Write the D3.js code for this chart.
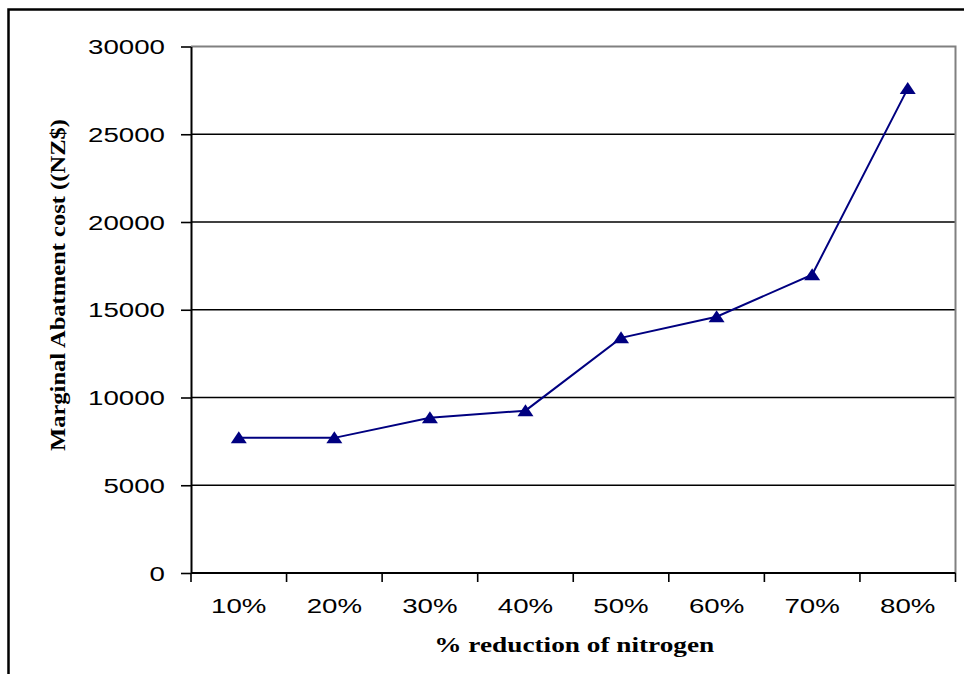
<!DOCTYPE html>
<html>
<head>
<meta charset="utf-8">
<script src="https://cdn.jsdelivr.net/npm/d3@7/dist/d3.min.js"></script>
<style>
  html, body { margin: 0; padding: 0; background: #fff; }
  svg { display: block; }
</style>
</head>
<body>
<svg id="chart" width="964" height="674"></svg>
<script>
// Marginal abatement cost by nitrogen reduction level
const categories = ["10%", "20%", "30%", "40%", "50%", "60%", "70%", "80%"];
const costs = [7700, 7700, 8850, 9250, 13400, 14600, 17000, 27600];
const yTicks = [0, 5000, 10000, 15000, 20000, 25000, 30000];
const yTitle = "Marginal Abatment cost ((NZ$)";
const xTitle = "% reduction of nitrogen";

const W = 964, H = 674;
const plot = { left: 191, top: 46.5, right: 955.5, bottom: 573 };
const stretch = 1.42; // horizontal stretch of the tick label font

const svg = d3.select("#chart");

// outer frame
svg.append("rect")
  .attr("x", 8.5).attr("y", 9.5)
  .attr("width", W + 20).attr("height", H + 20)
  .attr("fill", "#fff").attr("stroke", "#000").attr("stroke-width", 2.5);

const x = d3.scaleBand().domain(categories).range([plot.left, plot.right]).padding(0);
const y = d3.scaleLinear().domain([0, 30000]).range([plot.bottom, plot.top]);

// horizontal gridlines
svg.append("g").selectAll("line")
  .data(yTicks.filter(t => t > 0 && t < 30000))
  .join("line")
  .attr("x1", plot.left).attr("x2", plot.right)
  .attr("y1", d => y(d)).attr("y2", d => y(d))
  .attr("stroke", "#000").attr("stroke-width", 1.7);

// plot area border (top and right)
svg.append("path")
  .attr("d", `M${plot.left},${y(30000)}H${plot.right}V${plot.bottom}`)
  .attr("fill", "none").attr("stroke", "#808080").attr("stroke-width", 2);

// y axis
const yAxis = svg.append("g")
  .attr("transform", `translate(${plot.left},0)`)
  .call(d3.axisLeft(y).tickValues(yTicks).tickSize(10).tickSizeOuter(0).tickFormat(d3.format("d")));
yAxis.select(".domain").attr("stroke", "#000").attr("stroke-width", 2);
yAxis.selectAll(".tick line").attr("stroke", "#000").attr("stroke-width", 1.6);
yAxis.selectAll(".tick text")
  .attr("x", -26 / stretch)
  .attr("dy", "0.36em")
  .attr("transform", `scale(${stretch},1)`)
  .attr("font-family", "'Liberation Sans', Arial, sans-serif")
  .attr("font-size", 19.5)
  .attr("fill", "#000");

// x axis with ticks at category boundaries
const xAxis = svg.append("g")
  .attr("transform", `translate(0,${plot.bottom})`);
xAxis.append("line")
  .attr("x1", plot.left).attr("x2", plot.right)
  .attr("stroke", "#000").attr("stroke-width", 2);
const bounds = categories.map(c => x(c)).concat([x(categories[categories.length - 1]) + x.bandwidth()]);
xAxis.selectAll("line.tk").data(bounds).join("line")
  .attr("class", "tk")
  .attr("x1", d => d).attr("x2", d => d)
  .attr("y1", 0).attr("y2", 9)
  .attr("stroke", "#000").attr("stroke-width", 1.6);
xAxis.selectAll("text").data(categories).join("text")
  .attr("transform", d => `translate(${x(d) + x.bandwidth() / 2},40) scale(${stretch},1)`)
  .attr("text-anchor", "middle")
  .attr("font-family", "'Liberation Sans', Arial, sans-serif")
  .attr("font-size", 19.5)
  .attr("fill", "#000")
  .text(d => d);

// series line
const pts = categories.map((c, i) => ({ c, v: costs[i] }));
svg.append("path")
  .datum(pts)
  .attr("fill", "none")
  .attr("stroke", "#000080")
  .attr("stroke-width", 2)
  .attr("d", d3.line().x(d => x(d.c) + x.bandwidth() / 2).y(d => y(d.v)));

// triangle markers
const tri = "M0,-6.5L8,5.5L-8,5.5Z";
svg.append("g").selectAll("path")
  .data(pts)
  .join("path")
  .attr("d", tri)
  .attr("transform", d => `translate(${x(d.c) + x.bandwidth() / 2},${y(d.v)})`)
  .attr("fill", "#000080");

// axis titles
svg.append("text")
  .attr("transform", "translate(65,285) rotate(-90)")
  .attr("text-anchor", "middle")
  .attr("font-family", "'Liberation Serif', 'Times New Roman', serif")
  .attr("font-weight", "bold")
  .attr("font-size", 22)
  .attr("textLength", 332)
  .attr("lengthAdjust", "spacingAndGlyphs")
  .attr("fill", "#000")
  .text(yTitle);

svg.append("text")
  .attr("x", (plot.left + plot.right) / 2 + 1)
  .attr("y", 652)
  .attr("text-anchor", "middle")
  .attr("font-family", "'Liberation Serif', 'Times New Roman', serif")
  .attr("font-weight", "bold")
  .attr("font-size", 21)
  .attr("textLength", 280)
  .attr("lengthAdjust", "spacingAndGlyphs")
  .attr("fill", "#000")
  .text(xTitle);
</script>
</body>
</html>
